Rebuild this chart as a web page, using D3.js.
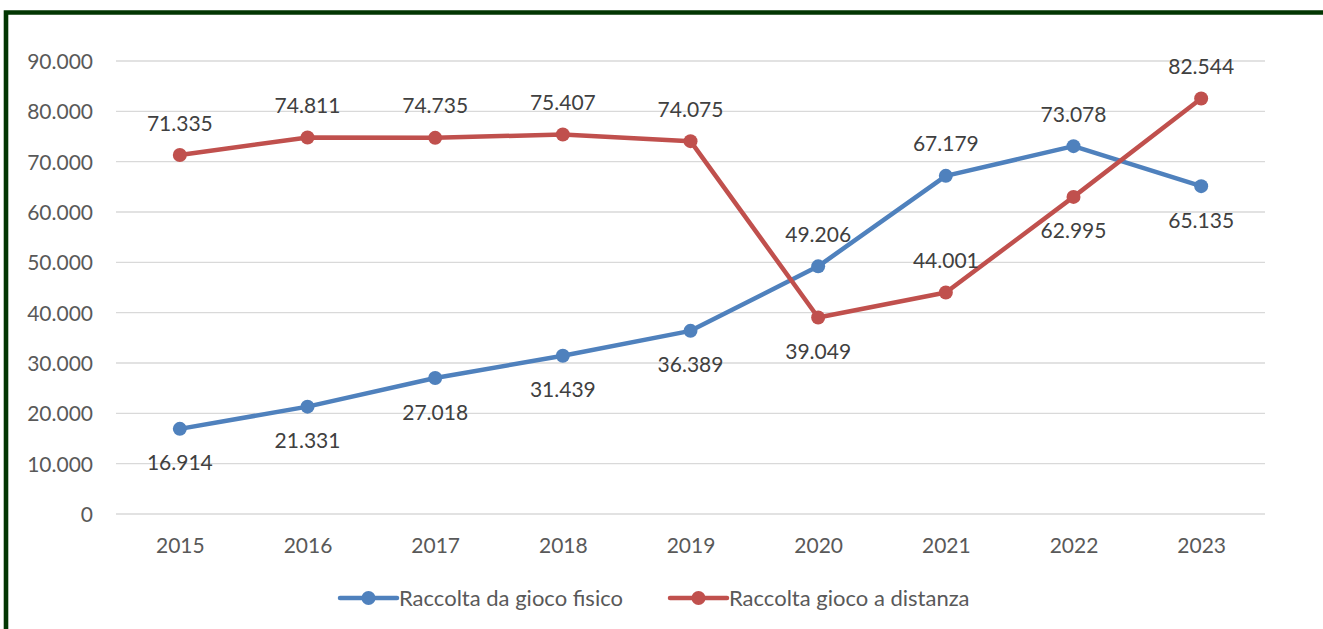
<!DOCTYPE html>
<html>
<head>
<meta charset="utf-8">
<script src="https://cdn.jsdelivr.net/npm/d3@7"></script>
<style>
  html, body { margin: 0; padding: 0; background: #fff; }
  svg { display: block; font-family: Lato, "Liberation Sans", sans-serif; }
</style>
</head>
<body>
<svg id="chart" width="1323" height="629"></svg>
<script>
const years = ["2015", "2016", "2017", "2018", "2019", "2020", "2021", "2022", "2023"];
const fisico = [16914, 21331, 27018, 31439, 36389, 49206, 67179, 73078, 65135];
const distanza = [71335, 74811, 74735, 75407, 74075, 39049, 44001, 62995, 82544];
const fisicoLabelPos = ["below", "below", "below", "below", "below", "above", "above", "above", "below"];
const distanzaLabelPos = ["above", "above", "above", "above", "above", "below", "above", "below", "above"];
const yTicks = [0, 10000, 20000, 30000, 40000, 50000, 60000, 70000, 80000, 90000];
const seriesNames = ["Raccolta da gioco fisico", "Raccolta gioco a distanza"];
const colors = ["#4F81BD", "#C0504D"];

(function () {
const itLocale = d3.formatLocale({ decimal: ",", thousands: ".", grouping: [3], currency: ["", " €"] });
const fmt = itLocale.format(",d");

const svg = d3.select("#chart");
svg.append("rect").attr("width", 1323).attr("height", 629).attr("fill", "#fff");

// frame
svg.append("path")
  .attr("d", "M6,640 V12.5 H1330")
  .attr("fill", "none")
  .attr("stroke", "#023602")
  .attr("stroke-width", 4.6);

const pLeft = 116, pRight = 1265, pTop = 61, pBottom = 514;
const x = d3.scalePoint().domain(years).range([pLeft, pRight]).padding(0.5);
const y = d3.scaleLinear().domain([0, 90000]).range([pBottom, pTop]);

// gridlines
svg.append("g").selectAll("line").data(yTicks).join("line")
  .attr("x1", pLeft).attr("x2", pRight)
  .attr("y1", d => y(d)).attr("y2", d => y(d))
  .attr("stroke", "#D9D9D9").attr("stroke-width", 1.3);

// y axis
const yAxis = svg.append("g")
  .attr("transform", `translate(${pLeft - 23},0)`)
  .call(d3.axisLeft(y).tickValues(yTicks).tickFormat(d => fmt(d)).tickSize(0).tickPadding(0));
yAxis.select(".domain").remove();
yAxis.selectAll("text")
  .attr("fill", "#595959").attr("font-size", 21)
  .attr("font-family", "Lato, 'Liberation Sans', sans-serif")
  .attr("dy", "0.36em");

// x axis
const xAxis = svg.append("g")
  .attr("transform", `translate(0,${pBottom})`)
  .call(d3.axisBottom(x).tickSize(0).tickPadding(0));
xAxis.select(".domain").remove();
xAxis.selectAll("text")
  .attr("fill", "#595959").attr("font-size", 21)
  .attr("font-family", "Lato, 'Liberation Sans', sans-serif")
  .attr("y", 31).attr("dy", "0.36em");

const line = d3.line().x((d, i) => x(years[i])).y(d => y(d));
const allSeries = [fisico, distanza];
const labelPos = [fisicoLabelPos, distanzaLabelPos];

allSeries.forEach((vals, si) => {
  const g = svg.append("g");
  g.append("path")
    .attr("d", line(vals))
    .attr("fill", "none")
    .attr("stroke", colors[si])
    .attr("stroke-width", 4.5)
    .attr("stroke-linejoin", "round")
    .attr("stroke-linecap", "round");
  g.selectAll("circle").data(vals).join("circle")
    .attr("cx", (d, i) => x(years[i]))
    .attr("cy", d => y(d))
    .attr("r", 7)
    .attr("fill", colors[si]);
});

allSeries.forEach((vals, si) => {
  svg.append("g").selectAll("text").data(vals).join("text")
    .attr("x", (d, i) => x(years[i]))
    .attr("y", (d, i) => y(d) + (labelPos[si][i] === "above" ? -32 : 34))
    .attr("dy", "0.36em")
    .attr("text-anchor", "middle")
    .attr("font-size", 21)
    .attr("fill", "#404040")
    .text(d => fmt(d));
});

// legend
const legendItems = [
  { x0: 340, name: seriesNames[0], color: colors[0] },
  { x0: 670, name: seriesNames[1], color: colors[1] }
];
const lg = svg.append("g");
legendItems.forEach(item => {
  lg.append("line")
    .attr("x1", item.x0).attr("x2", item.x0 + 57)
    .attr("y1", 598).attr("y2", 598)
    .attr("stroke", item.color).attr("stroke-width", 4.5).attr("stroke-linecap", "round");
  lg.append("circle").attr("cx", item.x0 + 28.5).attr("cy", 598).attr("r", 7).attr("fill", item.color);
  lg.append("text")
    .attr("x", item.x0 + 59).attr("y", 598).attr("dy", "0.36em")
    .attr("font-size", 22).attr("fill", "#595959")
    .text(item.name);
});
})();
</script>
</body>
</html>
